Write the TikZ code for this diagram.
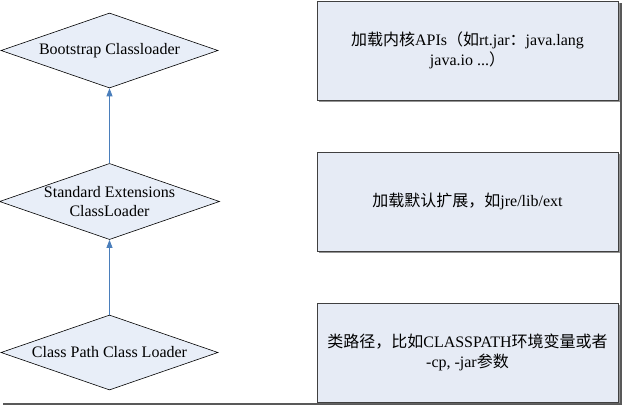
\documentclass[tikz,border=0pt]{standalone}
\usepackage{fontspec}
\setmainfont{Liberation Serif}
\newfontfamily\cjk{Noto Sans CJK SC}
\usepackage{xcolor}
\usetikzlibrary{positioning, arrows.meta, shapes.geometric, shadows}

\definecolor{loaderfill}{HTML}{E8EEF8}
\definecolor{notefill}{HTML}{E6EBF5}
\definecolor{linkblue}{HTML}{4A7EBB}

\begin{document}
\begin{tikzpicture}[
    x=1pt, y=-1pt,
    >={Triangle[length=8pt, width=6pt]},
    loader/.style={diamond, aspect=2.89, draw=black, fill=loaderfill, line width=0.6pt,
        minimum width=217pt, minimum height=75pt, inner sep=0pt,
        align=center, font=\fontsize{16}{19.5}\selectfont},
    note/.style={rectangle, draw=black!75, fill=notefill, line width=0.7pt,
        minimum width=301pt, minimum height=99pt, inner sep=2pt,
        align=center, font=\fontsize{16}{20}\selectfont,
        drop shadow={shadow xshift=1.5pt, shadow yshift=-1.5pt,
            opacity=0.7, fill=black!60}},
    link/.style={->, draw=linkblue, line width=0.7pt}
]
    \useasboundingbox (0,0) rectangle (624,407);

    % Frame shadow of the picture
    \draw[black!65, line width=2.2pt] (621,3) -- (621,404) -- (3,404);

    % Class loaders, from top to bottom
    \node[loader] (boot) at (109.5, 50.5)  {Bootstrap Classloader};
    \node[loader] (ext)  at (109.5, 201.5) {Standard Extensions\\ClassLoader};
    \node[loader] (app)  at (109.5, 352.5) {Class Path Class Loader};

    % Notes next to each loader
    \node[note] (bootnote) at (467.5, 50.5)
        {{\cjk 加载内核}APIs{\cjk （如}rt.jar{\cjk ：}java.lang\\java.io ...{\cjk ）}};
    \node[note] (extnote)  at (467.5, 201.5)
        {{\cjk 加载默认扩展，如}jre/lib/ext};
    \node[note] (appnote)  at (467.5, 352.5)
        {{\cjk 类路径，比如}CLASSPATH{\cjk 环境变量或者}\\-cp, -jar{\cjk 参数}};

    % Delegation to the parent loader
    \draw[link] (app.north) -- (ext.south);
    \draw[link] (ext.north) -- (boot.south);
\end{tikzpicture}
\end{document}
